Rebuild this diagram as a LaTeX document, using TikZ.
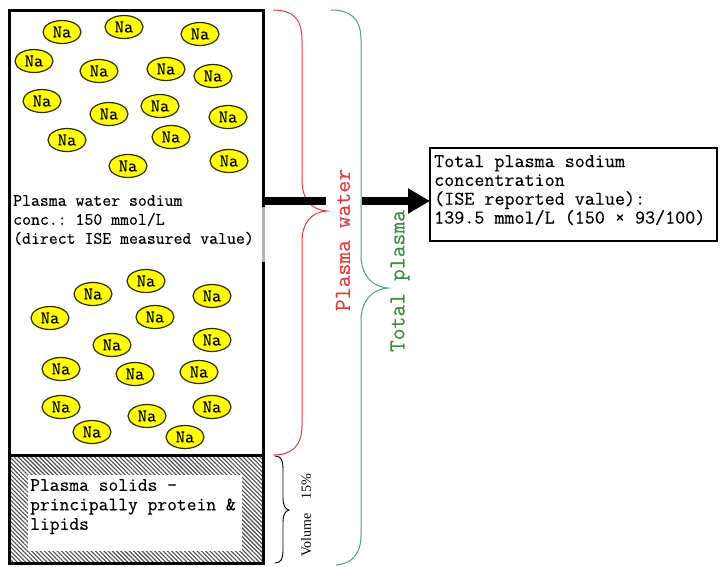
\documentclass[tikz,border=0pt]{standalone}
\usepackage{fontspec}
\setmainfont{Liberation Serif}
\setmonofont{Latin Modern Mono}[FakeBold=0.3]
\usetikzlibrary{arrows.meta,patterns.meta,shapes.geometric}
\definecolor{nafill}{RGB}{255,255,0}
\definecolor{naline}{RGB}{45,45,0}
\definecolor{bred}{RGB}{228,60,60}
\definecolor{bgreen}{RGB}{80,160,120}
\definecolor{tgreen}{RGB}{60,145,60}
\begin{document}
\begin{tikzpicture}[x=1pt,y=-1pt,
  na/.style={ellipse, draw=naline, line width=1.2pt, fill=nafill,
    minimum width=38pt, minimum height=23pt, inner sep=0pt,
    font=\ttfamily\fontsize{18}{18}\selectfont},
  boxline/.style={draw, line width=3pt, outer sep=0pt, inner sep=0pt, anchor=north west},
  txt/.style={inner sep=0pt, anchor=north west, align=left},
  brace/.style={line width=1pt},
  sidelabel/.style={rotate=90, inner sep=0pt, font=\ttfamily\fontsize{23}{23}\selectfont}
]
\useasboundingbox (0,0) rectangle (720,566);
\fill[white] (0,0) rectangle (720,566);

% plasma water compartment
\node[boxline, minimum width=254pt, minimum height=445pt] (water) at (9,10) {};
\draw[line width=3pt, black!30] (263,207) -- (263,262);
% plasma solids compartment
\node[boxline, minimum width=254pt, minimum height=108pt,
  pattern={Lines[angle=-45,distance=3pt,line width=1.1pt]}, pattern color=black!70] (solids) at (9,455) {};
\node[fill=white, inner sep=0pt, outer sep=0pt, anchor=north west,
  minimum width=214pt, minimum height=76pt] (solidsbg) at (28,475) {};
\node[txt, font=\ttfamily\fontsize{19}{19.5}\selectfont] (solidstxt) at (30,479)
  {Plasma solids -\\principally protein \&\\lipids};

% sodium ions
\foreach \px/\py [count=\i] in {
  62/32, 124/27, 200/34, 34/61, 99/71, 166/69, 213/76, 42/101, 109/114, 160/106,
  228/117, 67/140, 171/137, 128/166, 229/161,
  146/281, 93/294, 212/296, 50/318, 155/317, 212/340, 112/345, 61/369, 135/374,
  199/372, 61/407, 212/407, 147/416, 92/432, 185/437}
  \node[na] (na\i) at (\px,\py) {Na};

\node[txt, font=\ttfamily\fontsize{17.3}{19}\selectfont] (watertxt) at (13,195)
  {Plasma water sodium\\conc.: 150 mmol/L\\(direct ISE measured value)};

% braces
\draw[brace, bred] (273,10) .. controls (292,10) and (302,18) .. (302,40)
  -- (302,180) .. controls (302,200) and (312,210) .. (327,211)
  .. controls (312,212) and (302,222) .. (302,242)
  -- (302,425) .. controls (302,446) and (292,455) .. (273,455);
\draw[brace, bgreen] (331,10) .. controls (350,10) and (361,18) .. (361,40)
  -- (361,255) .. controls (361,275) and (372,287) .. (388,288)
  .. controls (372,289) and (361,301) .. (361,321)
  -- (361,535) .. controls (361,556) and (350,564) .. (336,565);
\draw[line width=0.9pt] (275,456) .. controls (281,456) and (283,460) .. (283,470)
  -- (283,498) .. controls (283,505) and (285,509) .. (289,510)
  .. controls (285,511) and (283,515) .. (283,522)
  -- (283,550) .. controls (283,559) and (281,563) .. (275,563);

\node[sidelabel, text=bred] (pwlabel) at (343,240) {Plasma water};
\node[sidelabel, text=tgreen] (tplabel) at (400,281) {Total plasma};
\node[rotate=90, inner sep=0pt, font=\rmfamily\fontsize{14}{14}\selectfont] (vollabel) at (306,515) {Volume\quad 15\%};

% result box
\node[draw, line width=2.5pt, outer sep=0pt, inner sep=0pt, anchor=north west,
  minimum width=287pt, minimum height=93pt] (total) at (430,148) {};
\node[txt, font=\ttfamily\fontsize{19.5}{18.8}\selectfont] (totaltxt) at (434,155)
  {Total plasma sodium\\concentration\\(ISE reported value):\\139.5 mmol/L (150 × 93/100)};

% arrow
\coordinate (a1) at (263,201);
\coordinate (a2) at (326,201);
\coordinate (a3) at (362,201);
\draw[line width=8pt] (a1) -- (a2);
\draw[line width=8pt, -{Triangle[length=22pt,width=24pt]}] (a3) -- (total.west |- a3);
\end{tikzpicture}
\end{document}
